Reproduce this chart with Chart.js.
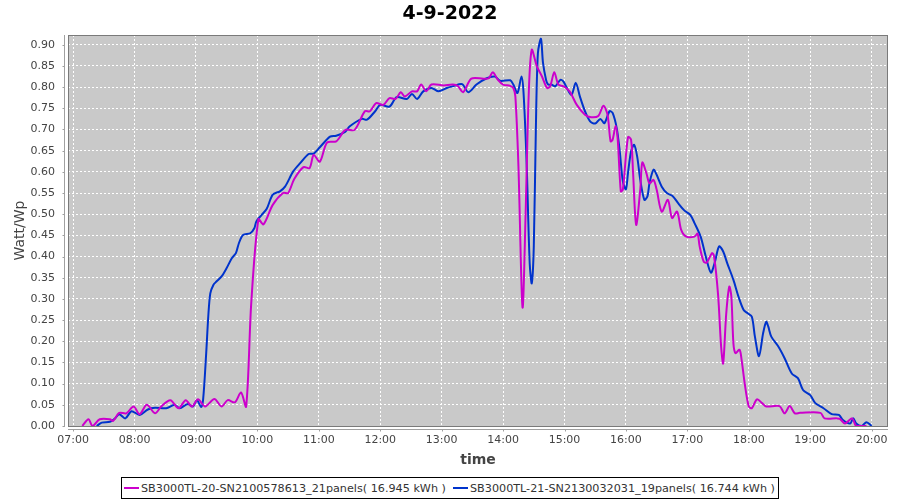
<!DOCTYPE html>
<html>
<head>
<meta charset="utf-8">
<script src="https://cdn.jsdelivr.net/npm/chart.js@4.4.0/dist/chart.umd.min.js"></script>
<style>
html,body{margin:0;padding:0;background:#fff;}
#wrap{position:relative;width:900px;height:500px;overflow:hidden;}
#c{position:absolute;left:0;top:0;}
#legend{position:absolute;left:121px;top:477px;width:656px;height:20px;border:1px solid #000;background:#fff;font:11.2px "DejaVu Sans",sans-serif;color:#333;white-space:nowrap;}
.item{position:absolute;top:0;height:20px;display:flex;align-items:center;}
.sw{display:inline-block;width:15px;height:2px;margin-right:2px;}
</style>
</head>
<body>
<div id="wrap">
<canvas id="c" width="900" height="500"></canvas>
<div id="legend"></div>
</div>
<script>
// ---------- data ----------
const chartTitle = "4-9-2022";
const xAxisTitle = "time";
const yAxisTitle = "Watt/Wp";
const seriesNames = [
  "SB3000TL-20-SN2100578613_21panels( 16.945 kWh )",
  "SB3000TL-21-SN2130032031_19panels( 16.744 kWh )"
];
const seriesColors = ["#cc00cc", "#0033cc"];
const xTickLabels = ["07:00","08:00","09:00","10:00","11:00","12:00","13:00","14:00","15:00","16:00","17:00","18:00","19:00","20:00"];
const yTickLabels = ["0.00","0.05","0.10","0.15","0.20","0.25","0.30","0.35","0.40","0.45","0.50","0.55","0.60","0.65","0.70","0.75","0.80","0.85","0.90"];

const magentaTimes = ["07:09","07:15","07:19","07:26","07:36","07:39","07:45","07:52","07:59","08:05","08:12","08:20","08:26","08:35","08:43","08:50","08:56","09:02","09:09","09:18","09:25","09:31","09:38","09:44","09:49","09:54","10:01","10:06","10:15","10:25","10:30","10:36","10:45","10:51","10:55","11:01","11:08","11:17","11:26","11:35","11:45","11:50","11:56","12:03","12:09","12:15","12:20","12:24","12:31","12:36","12:40","12:45","12:50","13:02","13:11","13:16","13:21","13:29","13:41","13:46","13:50","13:55","14:00","14:07","14:10","14:12","14:15","14:19","14:22","14:25","14:28","14:33","14:38","14:43","14:46","14:50","14:54","14:59","15:05","15:12","15:20","15:26","15:33","15:38","15:42","15:45","15:47","15:50","15:52","15:55","15:57","16:02","16:05","16:07","16:10","16:14","16:16","16:20","16:23","16:27","16:30","16:35","16:41","16:45","16:50","16:54","16:59","17:07","17:10","17:12","17:16","17:19","17:24","17:26","17:30","17:33","17:35","17:38","17:41","17:43","17:45","17:47","17:51","17:53","17:56","18:00","18:03","18:08","18:13","18:17","18:30","18:35","18:40","18:45","18:50","19:10","19:14","19:26","19:29","19:34","19:41","19:45","19:55"];
const magentaValues = [0,0.016,0,0.016,0.016,0.012,0.031,0.03,0.046,0.028,0.05,0.03,0.046,0.061,0.042,0.061,0.046,0.063,0.046,0.064,0.046,0.061,0.056,0.079,0.046,0.29,0.488,0.476,0.522,0.55,0.55,0.583,0.611,0.609,0.64,0.624,0.669,0.672,0.699,0.699,0.743,0.743,0.762,0.758,0.774,0.772,0.788,0.778,0.79,0.79,0.806,0.79,0.806,0.804,0.806,0.802,0.788,0.82,0.82,0.821,0.835,0.817,0.806,0.803,0.798,0.778,0.613,0.28,0.50,0.78,0.888,0.849,0.825,0.798,0.802,0.835,0.806,0.802,0.79,0.758,0.735,0.729,0.732,0.756,0.735,0.672,0.676,0.709,0.676,0.554,0.558,0.682,0.676,0.597,0.475,0.558,0.622,0.597,0.573,0.581,0.558,0.506,0.534,0.491,0.506,0.463,0.447,0.447,0.454,0.424,0.388,0.386,0.408,0.402,0.31,0.187,0.148,0.266,0.329,0.305,0.195,0.172,0.18,0.156,0.101,0.046,0.042,0.063,0.054,0.046,0.047,0.03,0.047,0.03,0.031,0.031,0.018,0.018,0.017,0.006,0.018,0,0];

const blueTimes = ["07:23","07:28","07:36","07:41","07:45","07:51","07:57","08:05","08:13","08:20","08:31","08:39","08:44","08:52","08:57","09:01","09:05","09:07","09:10","09:12","09:14","09:17","09:20","09:25","09:30","09:35","09:39","09:42","09:46","09:53","09:57","09:59","10:04","10:09","10:15","10:22","10:27","10:35","10:42","10:50","10:55","11:01","11:11","11:17","11:26","11:30","11:42","11:47","11:55","12:00","12:09","12:16","12:26","12:31","12:36","12:42","12:50","12:57","13:05","13:11","13:20","13:26","13:34","13:44","13:52","13:57","14:07","14:10","14:14","14:18","14:20","14:23","14:26","14:28","14:30","14:32","14:34","14:37","14:39","14:42","14:44","14:47","14:51","14:56","14:59","15:04","15:07","15:11","15:15","15:20","15:25","15:30","15:35","15:39","15:44","15:47","15:51","15:54","15:57","16:00","16:02","16:05","16:08","16:11","16:14","16:18","16:21","16:23","16:27","16:30","16:35","16:40","16:46","16:51","16:57","17:03","17:07","17:13","17:18","17:23","17:27","17:31","17:35","17:39","17:45","17:50","17:55","17:59","18:03","18:06","18:10","18:14","18:17","18:19","18:22","18:29","18:35","18:42","18:48","18:53","19:00","19:05","19:13","19:21","19:28","19:32","19:39","19:42","19:45","19:50","19:55","20:00"];
const blueValues = [0,0.008,0.01,0.018,0.028,0.018,0.035,0.026,0.039,0.043,0.042,0.05,0.042,0.052,0.046,0.061,0.045,0.063,0.172,0.258,0.313,0.333,0.341,0.353,0.373,0.396,0.408,0.432,0.451,0.455,0.467,0.483,0.498,0.512,0.546,0.554,0.565,0.601,0.621,0.642,0.643,0.658,0.683,0.685,0.695,0.707,0.725,0.723,0.743,0.758,0.754,0.776,0.772,0.784,0.772,0.79,0.798,0.79,0.798,0.802,0.807,0.788,0.806,0.821,0.825,0.815,0.816,0.806,0.786,0.825,0.786,0.62,0.384,0.337,0.424,0.699,0.88,0.914,0.857,0.817,0.806,0.806,0.802,0.817,0.813,0.79,0.782,0.81,0.778,0.743,0.719,0.714,0.725,0.715,0.743,0.739,0.703,0.648,0.577,0.559,0.597,0.648,0.664,0.636,0.581,0.534,0.542,0.573,0.605,0.593,0.565,0.55,0.542,0.526,0.509,0.498,0.479,0.447,0.40,0.362,0.388,0.424,0.412,0.384,0.345,0.305,0.274,0.266,0.258,0.211,0.165,0.219,0.246,0.235,0.211,0.187,0.16,0.124,0.113,0.085,0.073,0.054,0.042,0.028,0.026,0.014,0.006,0.018,0.006,0,0.009,0];

// ---------- helpers ----------
function toMin(s){const p=s.split(":");return (+p[0])*60+(+p[1]);}
function toPts(ts,vs){return ts.map((t,i)=>({x:toMin(t),y:vs[i]}));}
const xTickValues = xTickLabels.map(toMin);
const yTickValues = yTickLabels.map(Number);

const plotDeco = {
  id:'plotDeco',
  beforeDatasetsDraw(chart){
    const {ctx, chartArea:a} = chart;
    ctx.save();
    ctx.globalCompositeOperation='destination-over';
    ctx.fillStyle='#c9c9c9';
    ctx.fillRect(a.left,a.top,a.right-a.left,a.bottom-a.top);
    ctx.restore();
  },
  afterDraw(chart){
    const {ctx, chartArea:a, scales} = chart;
    ctx.save();
    ctx.strokeStyle='#7a7a7a'; ctx.lineWidth=1;
    ctx.strokeRect(Math.round(a.left)+0.5, Math.round(a.top)+0.5, Math.round(a.right-a.left)-1, Math.round(a.bottom-a.top));
    ctx.strokeStyle='#a0a0a0';
    const lx=Math.round(a.left)-3.5, by=Math.round(a.bottom)+3.5;
    ctx.beginPath();
    ctx.moveTo(lx,a.top); ctx.lineTo(lx,a.bottom+1);
    ctx.moveTo(a.left,by); ctx.lineTo(a.right,by);
    yTickValues.forEach(v=>{const y=Math.round(scales.y.getPixelForValue(v))+0.5;ctx.moveTo(lx-2,y);ctx.lineTo(lx,y);});
    xTickValues.forEach(v=>{const x=Math.round(scales.x.getPixelForValue(v))+0.5;ctx.moveTo(x,by);ctx.lineTo(x,by+2);});
    ctx.stroke();
    ctx.restore();
  }
};

new Chart(document.getElementById('c'), {
  type:'line',
  data:{
    datasets:[
      {label:seriesNames[0], data:toPts(magentaTimes,magentaValues), borderColor:seriesColors[0], borderWidth:2, pointRadius:0, tension:0.3, fill:false},
      {label:seriesNames[1], data:toPts(blueTimes,blueValues), borderColor:seriesColors[1], borderWidth:2, pointRadius:0, tension:0.3, fill:false}
    ]
  },
  options:{
    responsive:false, animation:false,
    layout:{padding:{left:12,right:12,top:0,bottom:0}},
    plugins:{
      legend:{display:false},
      tooltip:{enabled:false},
      title:{display:true, text:chartTitle, color:'#000', font:{family:'DejaVu Sans', size:19, weight:'bold'}, padding:{top:3,bottom:9.2}}
    },
    scales:{
      x:{
        type:'linear', min:415, max:1216,
        afterFit(s){s.height=74;},
        afterBuildTicks(s){s.ticks=xTickValues.map(v=>({value:v}));},
        ticks:{autoSkip:false, maxRotation:0, padding:8, color:'#444', font:{family:'DejaVu Sans', size:11},
          callback:(v)=>{const i=xTickValues.indexOf(v);return i>=0?xTickLabels[i]:'';}},
        grid:{color:'#ffffff', lineWidth:1, drawTicks:false},
        border:{display:false, dash:[2,2]},
        title:{display:true, text:xAxisTitle, color:'#444', font:{family:'DejaVu Sans', size:14, weight:'bold'}, padding:{top:0,bottom:31.6}}
      },
      y:{
        type:'linear', min:0, max:0.923,
        afterFit(s){s.width=56;},
        afterBuildTicks(s){s.ticks=yTickValues.map(v=>({value:v}));},
        ticks:{autoSkip:false, padding:13, color:'#444', font:{family:'DejaVu Sans', size:11},
          callback:(v)=>{const i=yTickValues.findIndex(t=>Math.abs(t-v)<1e-9);return i>=0?yTickLabels[i]:'';}},
        grid:{color:'#ffffff', lineWidth:1, drawTicks:false},
        border:{display:false, dash:[2,2]},
        title:{display:true, text:yAxisTitle, color:'#444', font:{family:'DejaVu Sans', size:14}, padding:{top:0,bottom:0}}
      }
    }
  },
  plugins:[plotDeco]
});

// legend (HTML)
const lg=document.getElementById('legend');
const itemLeft=[2,331];
seriesNames.forEach((n,i)=>{
  const d=document.createElement('div');d.className='item';d.style.left=itemLeft[i]+'px';
  const sw=document.createElement('span');sw.className='sw';sw.style.background=seriesColors[i];
  const t=document.createElement('span');t.textContent=n;
  d.appendChild(sw);d.appendChild(t);lg.appendChild(d);
});
</script>
</body>
</html>
